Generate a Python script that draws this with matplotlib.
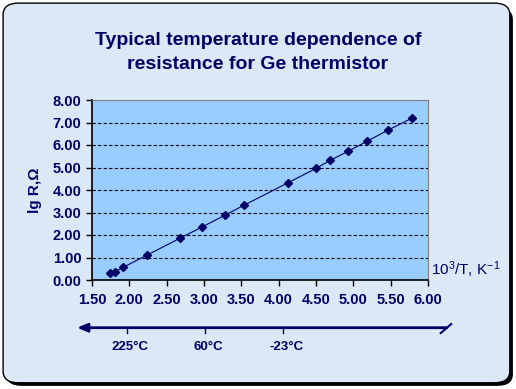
import matplotlib
matplotlib.use("Agg")
import matplotlib.pyplot as plt
from matplotlib.patches import FancyBboxPatch
from matplotlib.ticker import FormatStrFormatter

plt.rcParams["mathtext.fontset"] = "custom"
plt.rcParams["mathtext.rm"] = "Liberation Sans"
plt.rcParams["mathtext.it"] = "Liberation Sans:italic"
plt.rcParams["mathtext.bf"] = "Liberation Sans:bold"

# Data (10^3/T, lg R)
inv_T = [1.74, 1.81, 1.92, 2.24, 2.68, 2.97, 3.28, 3.54, 4.13, 4.50, 4.69, 4.93, 5.18, 5.47, 5.79]
lg_R = [0.30, 0.37, 0.57, 1.11, 1.86, 2.35, 2.88, 3.33, 4.33, 4.96, 5.32, 5.72, 6.16, 6.67, 7.20]

x_ticks = [1.50, 2.00, 2.50, 3.00, 3.50, 4.00, 4.50, 5.00, 5.50, 6.00]
y_ticks = [0.00, 1.00, 2.00, 3.00, 4.00, 5.00, 6.00, 7.00, 8.00]
temp_labels = ["225°C", "60°C", "-23°C"]
temp_pos = [1.965, 3.02, 4.06]

navy = "#000066"
fig = plt.figure(figsize=(5.16, 3.89), dpi=100)
fig.patch.set_facecolor("white")

# background rounded panel with shadow
shadow = FancyBboxPatch((0.012, 0.008), 0.982, 0.972, boxstyle="round,pad=0,rounding_size=0.03",
                        transform=fig.transFigure, facecolor="black", edgecolor="none", zorder=0)
panel = FancyBboxPatch((0.006, 0.016), 0.982, 0.976, boxstyle="round,pad=0,rounding_size=0.03",
                       transform=fig.transFigure, facecolor="#dbe8f6", edgecolor="black",
                       linewidth=1.0, zorder=0.5)
fig.patches.extend([shadow, panel])

ax = fig.add_axes([92/516, 1-280/389, (428-92)/516, 180/389])
ax.set_zorder(2)
ax.set_facecolor("#99ccff")
ax.set_xlim(1.5, 6.0)
ax.set_ylim(0, 8)
ax.set_xticks(x_ticks)
ax.set_yticks(y_ticks)
ax.xaxis.set_major_formatter(FormatStrFormatter("%.2f"))
ax.yaxis.set_major_formatter(FormatStrFormatter("%.2f"))

for y in y_ticks[1:-1]:
    ax.axhline(y, color="black", linestyle=(0, (3, 2)), linewidth=0.8, zorder=1)

ax.plot(inv_T, lg_R, color=navy, linewidth=0.8, marker="D", markersize=4.5,
        markerfacecolor=navy, markeredgecolor=navy, zorder=3)

for s in ["top", "right"]:
    ax.spines[s].set_color("#808080")
    ax.spines[s].set_linewidth(0.8)
for s in ["left", "bottom"]:
    ax.spines[s].set_color("black")
    ax.spines[s].set_linewidth(1.2)

ax.tick_params(axis="both", direction="out", length=4, width=1.0, colors="black",
               labelcolor=navy, labelsize=10.5)
ax.tick_params(axis="x", pad=5)
for lab in ax.get_xticklabels() + ax.get_yticklabels():
    lab.set_fontweight("bold")
    lab.set_family("Liberation Sans")

ax.set_ylabel("lg R,Ω", color=navy, fontsize=11, fontweight="bold", family="Liberation Sans",
              labelpad=8)
ax.text(1.01, 10/180, r"10$^3$/T, K$^{-1}$", transform=ax.transAxes, color=navy, fontsize=11,
        family="Liberation Sans", ha="left", va="center")

fig.text(0.5, 1 - 52.5/389, "Typical temperature dependence of\nresistance for Ge thermistor",
         ha="center", va="center", color=navy, fontsize=14, fontweight="bold",
         family="Liberation Sans", linespacing=1.55)

# temperature axis below
trans = ax.get_xaxis_transform()
y_line = -(327.7 - 280) / 180
ax.annotate("", xy=(1.30, y_line), xytext=(6.25, y_line), xycoords=trans, textcoords=trans,
            arrowprops=dict(arrowstyle="-|>,head_length=0.6,head_width=0.25", color=navy, lw=2,
                            shrinkA=0, shrinkB=0),
            annotation_clip=False)
ax.plot([6.17, 6.31], [y_line - 0.03, y_line + 0.02], transform=trans, color=navy, lw=1.5,
        clip_on=False)
for p, t in zip(temp_pos, temp_labels):
    ax.plot([p, p], [y_line, y_line - 0.03], transform=trans, color=navy, lw=1, clip_on=False)
    ax.text(p + 0.04, y_line - 0.105, t, transform=trans, ha="center", va="center", color=navy,
            fontsize=9.5, family="Liberation Sans", fontweight="bold")

fig.savefig("out.png", dpi=100)
